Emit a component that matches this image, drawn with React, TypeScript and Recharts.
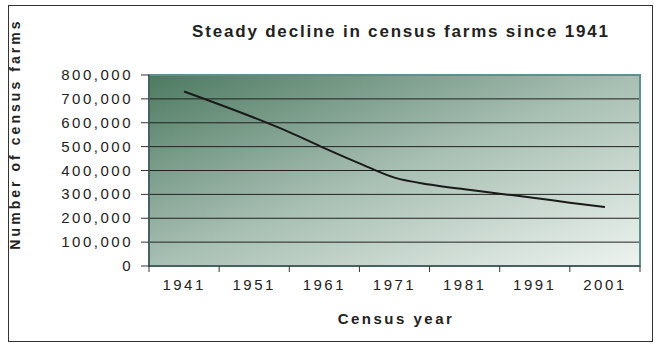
import React from "react";
import {
  LineChart,
  Line,
  XAxis,
  YAxis,
  CartesianGrid,
  ReferenceArea,
} from "recharts";

const years = [1941, 1951, 1956, 1961, 1966, 1971, 1976, 1981, 1986, 1991, 1996, 2001];
const farms = [731000, 621000, 561000, 494000, 430000, 370000, 341000, 321000, 303000, 285000, 265000, 247000];
const yTicks = [0, 100000, 200000, 300000, 400000, 500000, 600000, 700000, 800000];
const xLabelYears = [1941, 1951, 1961, 1971, 1981, 1991, 2001];
const xBoundaryYears = [1936, 1946, 1956, 1966, 1976, 1986, 1996, 2006];

const title = "Steady decline in census farms since 1941";
const yTitle = "Number of census farms";
const xTitle = "Census year";

const data = years.map((y, i) => ({ year: y, farms: farms[i] }));
const allXTicks = [...xBoundaryYears, ...xLabelYears].sort((a, b) => a - b);

const FONT = '"Liberation Sans", Arial, sans-serif';

const XTick = (props: any) => {
  const { x, y, payload } = props;
  const v = payload.value;
  if (xBoundaryYears.includes(v)) {
    return <line x1={x} x2={x} y1={y} y2={y + 6} stroke="#333" strokeWidth={1} />;
  }
  return (
    <text
      x={x}
      y={y + 24}
      textAnchor="middle"
      fontFamily={FONT}
      fontSize={15}
      letterSpacing={2.5}
      fill="#222"
    >
      {v}
    </text>
  );
};

const YTick = (props: any) => {
  const { x, y, payload } = props;
  return (
    <text
      x={x - 6}
      y={y + 5}
      textAnchor="end"
      fontFamily={FONT}
      fontSize={15}
      letterSpacing={2.5}
      fill="#222"
    >
      {Number(payload.value).toLocaleString("en-US")}
    </text>
  );
};

export default function App() {
  return (
    <div style={{ position: "absolute", left: 0, top: 0, width: 660, height: 346, background: "#fff" }}>
      <div
        style={{
          position: "absolute",
          left: 8,
          top: 5,
          width: 643,
          height: 335,
          border: "1px solid #333",
        }}
      />
      <div
        style={{
          position: "absolute",
          left: 401,
          top: 32,
          transform: "translate(-50%, -50%)",
          whiteSpace: "nowrap",
          fontFamily: FONT,
          fontWeight: "bold",
          fontSize: 17,
          letterSpacing: 1.8,
          color: "#222",
        }}
      >
        {title}
      </div>
      <div
        style={{
          position: "absolute",
          left: 15,
          top: 134,
          transform: "translate(-50%, -50%) rotate(-90deg)",
          whiteSpace: "nowrap",
          fontFamily: FONT,
          fontWeight: "bold",
          fontSize: 14,
          letterSpacing: 3.05,
          color: "#222",
        }}
      >
        {yTitle}
      </div>
      <div
        style={{
          position: "absolute",
          left: 396,
          top: 318,
          transform: "translate(-50%, -50%)",
          whiteSpace: "nowrap",
          fontFamily: FONT,
          fontWeight: "bold",
          fontSize: 15,
          letterSpacing: 2.5,
          color: "#222",
        }}
      >
        {xTitle}
      </div>
      <div style={{ position: "absolute", left: 0, top: 0 }}>
        <LineChart
          width={660}
          height={346}
          data={data}
          margin={{ top: 75, right: 20, bottom: 50, left: 69 }}
        >
          <defs>
            <linearGradient id="bgGrad" x1="0" y1="0" x2="1" y2="1">
              <stop offset="0%" stopColor="#4d7a61" />
              <stop offset="50%" stopColor="#a8bfb3" />
              <stop offset="100%" stopColor="#eef4f0" />
            </linearGradient>
          </defs>
          <CartesianGrid
            vertical={false}
            stroke="#222"
            strokeWidth={1}
            fill="url(#bgGrad)"
            fillOpacity={1}
          />
          <ReferenceArea
            x1={1936}
            x2={2006}
            y1={0}
            y2={800000}
            fill="none"
            stroke="#5f9090"
            strokeWidth={2}
            ifOverflow="visible"
          />
          <XAxis
            dataKey="year"
            type="number"
            domain={[1936, 2006]}
            ticks={allXTicks}
            interval={0}
            tick={<XTick />}
            tickLine={false}
            tickSize={0}
            tickMargin={0}
            axisLine={{ stroke: "#333" }}
            height={30}
          />
          <YAxis
            type="number"
            domain={[0, 800000]}
            ticks={yTicks}
            interval={0}
            tick={<YTick />}
            tickLine={{ stroke: "#333" }}
            tickSize={8}
            axisLine={{ stroke: "#333" }}
            width={80}
          />
          <Line
            type="monotone"
            dataKey="farms"
            stroke="#1a1a1a"
            strokeWidth={2}
            dot={false}
            isAnimationActive={false}
          />
        </LineChart>
      </div>
    </div>
  );
}
